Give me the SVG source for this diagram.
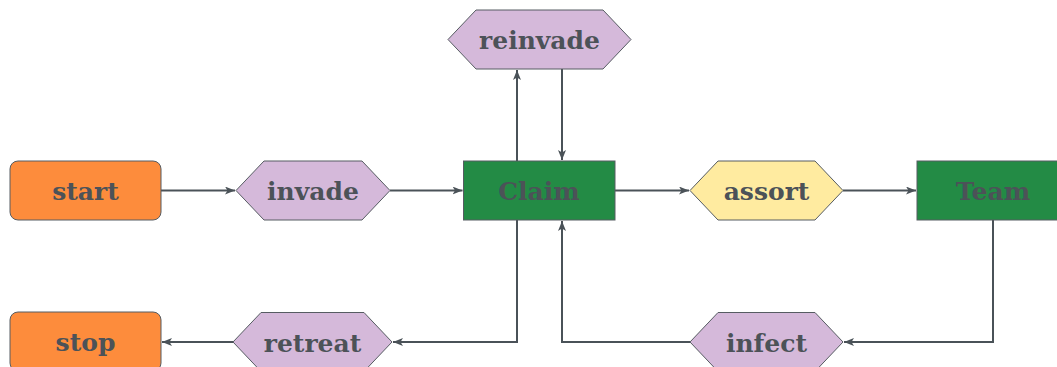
<svg xmlns="http://www.w3.org/2000/svg" width="1057" height="367" viewBox="0 0 1057 367">
  <defs>
    <marker id="arrow" markerUnits="userSpaceOnUse" markerWidth="12" markerHeight="10" refX="10" refY="4" orient="auto">
      <path d="M0,0 L10,4 L0,8 L2.5,4 Z" fill="#4a5258"/>
    </marker>
  </defs>
  <style>
    .node { stroke: #565c62; stroke-width: 1; }
    .term { fill: #fd8c3c; }
    .act { fill: #d5b9da; }
    .warn { fill: #ffeba0; }
    .state { fill: #238b45; }
    .label { font-family: "DejaVu Serif", "Liberation Serif", serif; font-weight: bold; font-size: 25px; fill: #4c5258; text-anchor: middle; dominant-baseline: central; }
    .edge { fill: none; stroke: #4a5258; stroke-width: 2; marker-end: url(#arrow); }
  </style>

  <g id="connectors">
    <path class="edge" d="M161,190.5 H235"/>
    <path class="edge" d="M390,190.5 H462.5"/>
    <path class="edge" d="M517,161 V70"/>
    <path class="edge" d="M562,69 V160"/>
    <path class="edge" d="M615,190.5 H689"/>
    <path class="edge" d="M843,190.5 H916"/>
    <path class="edge" d="M993,220 V342 H844"/>
    <path class="edge" d="M690,342 H562 V221"/>
    <path class="edge" d="M517,220 V342 H393"/>
    <path class="edge" d="M233,342 H162"/>
  </g>

  <g id="start">
    <rect class="node term" x="10" y="161" width="151" height="59" rx="8"/>
    <text class="label" x="85.5" y="191.5">start</text>
  </g>
  <g id="invade">
    <polygon class="node act" points="236,190.5 264,161 362,161 390,190.5 362,220 264,220"/>
    <text class="label" x="313" y="191.5">invade</text>
  </g>
  <g id="claim">
    <rect class="node state" x="463.5" y="161" width="151.5" height="59"/>
    <text class="label" x="539" y="191.5">Claim</text>
  </g>
  <g id="reinvade">
    <polygon class="node act" points="448,39.5 476,10 603,10 631,39.5 603,69 476,69"/>
    <text class="label" x="539.5" y="40.5">reinvade</text>
  </g>
  <g id="assort">
    <polygon class="node warn" points="690,190.5 718,161 815,161 843,190.5 815,220 718,220"/>
    <text class="label" x="766.5" y="191.5">assort</text>
  </g>
  <g id="team">
    <rect class="node state" x="917" y="161" width="152" height="59"/>
    <text class="label" x="993" y="191.5">Team</text>
  </g>
  <g id="stop">
    <rect class="node term" x="10" y="312" width="151" height="59" rx="8"/>
    <text class="label" x="85.5" y="342.5">stop</text>
  </g>
  <g id="retreat">
    <polygon class="node act" points="233,342 261,312.5 364,312.5 392,342 364,371.5 261,371.5"/>
    <text class="label" x="312.5" y="343">retreat</text>
  </g>
  <g id="infect">
    <polygon class="node act" points="690,342 718,312.5 815,312.5 843,342 815,371.5 718,371.5"/>
    <text class="label" x="766.5" y="343">infect</text>
  </g>
</svg>
